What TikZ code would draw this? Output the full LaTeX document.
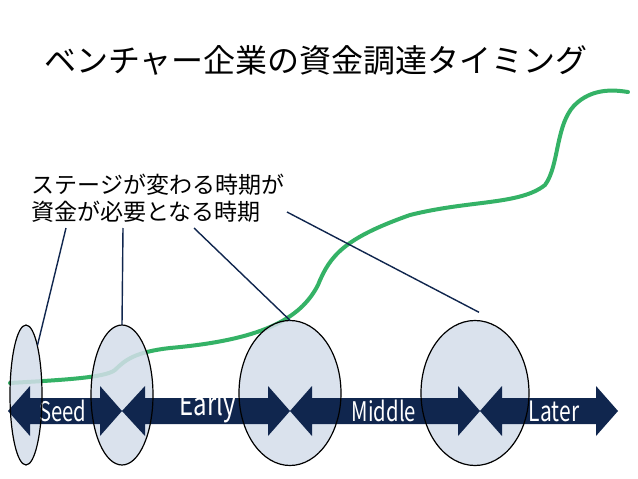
\documentclass[tikz,border=0pt]{standalone}
\usepackage{fontspec}
\setmainfont{Noto Sans CJK JP}
\usetikzlibrary{shapes.geometric}
\definecolor{navy}{RGB}{16,38,78}
\definecolor{ellfill}{RGB}{212,222,234}
\definecolor{curvegreen}{RGB}{52,178,102}
\tikzset{
  ell/.style={ellipse,inner sep=0pt},
  arr/.style={fill=navy},
  lbl/.style={text=white},
  conn/.style={draw=navy,line width=1.4pt}
}
\newcommand{\narrow}[2]{\scalebox{0.75}[1]{\fontsize{#1}{#1}\selectfont #2}}
\begin{document}
\begin{tikzpicture}[x=1pt,y=-1pt]
\useasboundingbox (0,0) rectangle (638,479);
\fill[white] (0,0) rectangle (638,479);
\node[font=\fontsize{32}{32}\selectfont] (title) at (316,60) {ベンチャー企業の資金調達タイミング};
\node[font=\fontsize{23}{27}\selectfont,align=left,anchor=west] (txt) at (28,198) {ステージが変わる時期が\\資金が必要となる時期};
% green curve
\draw[curvegreen,line width=4pt,line cap=round] (10,383) .. controls (60,380) and (105,378) .. (115,370)
  .. controls (125,360) and (135,352) .. (170,348)
  .. controls (260,340) and (300,320) .. (318,285)
  .. controls (330,255) and (345,238) .. (410,215)
  .. controls (470,200) and (520,205) .. (545,185)
  .. controls (560,165) and (555,120) .. (578,102)
  .. controls (595,88) and (615,90) .. (628,92);
% ellipses fill
\node[ell,minimum width=32,minimum height=140,fill=ellfill,fill opacity=0.85] (e1) at (26,395) {};
\node[ell,minimum width=62,minimum height=140,fill=ellfill,fill opacity=0.85] (e2) at (122,395) {};
\node[ell,minimum width=102,minimum height=145,fill=ellfill,fill opacity=0.85] (e3) at (290,393) {};
\node[ell,minimum width=108,minimum height=145,fill=ellfill,fill opacity=0.85] (e4) at (475,393) {};
% arrows
\fill[arr] (8,411) -- (30,386) -- (30,398) -- (100,398) -- (100,386) -- (122,411) -- (100,436) -- (100,424) -- (30,424) -- (30,436) -- cycle;
\fill[arr] (122,411) -- (145,386) -- (145,398) -- (268,398) -- (268,386) -- (290,411) -- (268,436) -- (268,424) -- (145,424) -- (145,436) -- cycle;
\fill[arr] (290,411) -- (312,386) -- (312,398) -- (458,398) -- (458,386) -- (480,411) -- (458,436) -- (458,424) -- (312,424) -- (312,436) -- cycle;
\fill[arr] (480,411) -- (502,386) -- (502,398) -- (596,398) -- (596,386) -- (618,411) -- (596,436) -- (596,424) -- (502,424) -- (502,436) -- cycle;
\node[lbl] (l1) at (63,411) {\narrow{27}{Seed}};
\node[lbl] (l2) at (208,407) {\narrow{32}{Early}};
\node[lbl] (l3) at (384,411) {\narrow{27}{Middle}};
\node[lbl] (l4) at (554,411) {\narrow{28}{Later}};
% outlines
\draw[black,line width=1.2pt] (26,395) ellipse [x radius=16,y radius=70];
\draw[black,line width=1.2pt] (122,395) ellipse [x radius=31,y radius=70];
\draw[black,line width=1.2pt] (290,393) ellipse [x radius=51,y radius=72.5];
\draw[black,line width=1.2pt] (475,393) ellipse [x radius=54,y radius=72.5];
% connectors
\coordinate (c1) at (66,228);
\coordinate (c2) at (123,228);
\coordinate (c3) at (194,228);
\coordinate (c4) at (287,212);
\draw[conn] (c1) -- (e1.north east);
\draw[conn] (c2) -- (e2.north);
\draw[conn] (c3) -- (e3.north);
\draw[conn] (c4) -- ([xshift=4pt,yshift=8pt]e4.north);
\end{tikzpicture}
\end{document}
